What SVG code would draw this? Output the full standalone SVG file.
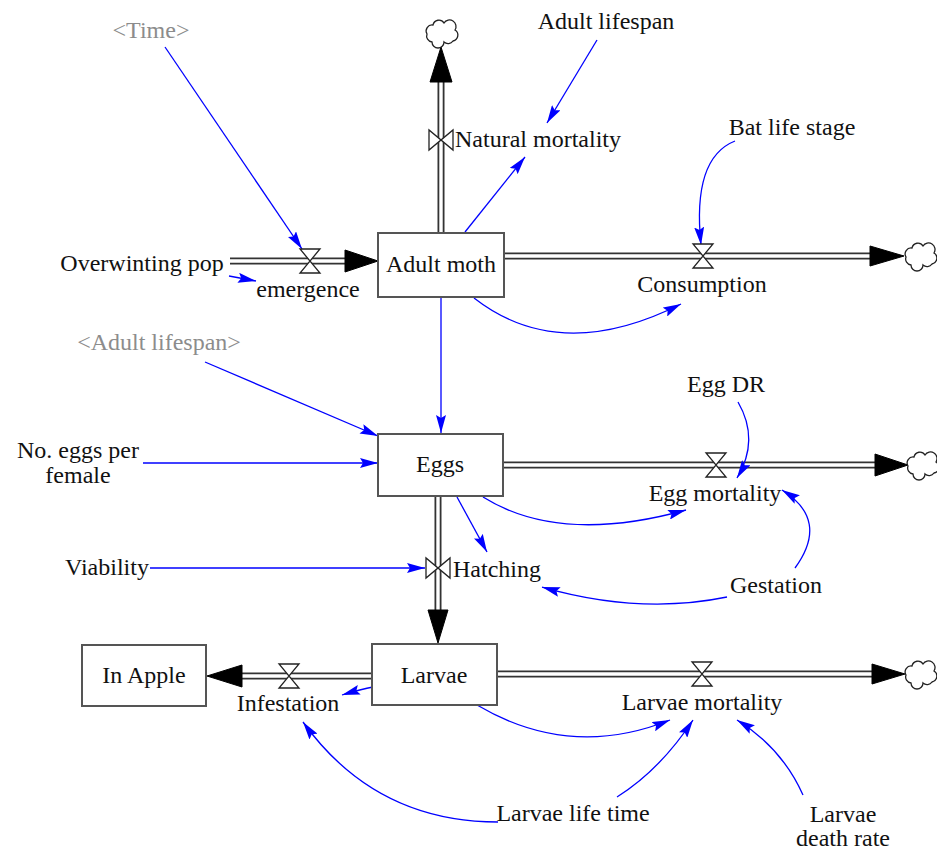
<svg xmlns="http://www.w3.org/2000/svg" xmlns:xlink="http://www.w3.org/1999/xlink" width="937" height="852" viewBox="0 0 937 852">
<style>
text{font-family:"Liberation Serif","Times New Roman",serif;font-size:24px;fill:#111;text-anchor:middle}
text.shadow{fill:#8c8c8c}
.stock{fill:#fff;stroke:#555;stroke-width:2}
.po{fill:none;stroke:#333;stroke-width:7}
.pi{fill:none;stroke:#fff;stroke-width:3.4}
.fa{fill:#000;stroke:#000;stroke-width:1}
.valve{fill:#fff;stroke:#222;stroke-width:1.3}
.cloud{fill:#fff;stroke:#222;stroke-width:1.3}
.link{fill:none;stroke:#0000ff;stroke-width:1.3;marker-end:url(#la)}
</style>
<defs>
<marker id="la" viewBox="0 0 18 10" refX="18" refY="5" markerWidth="18" markerHeight="10" markerUnits="userSpaceOnUse" orient="auto">
<path d="M0,0 L18,5 L0,10 L3,5 Z" fill="#0000ff"/>
</marker>
<path id="vv" d="M-10,-12 H10 L-10,12 H10 Z"/>
<path id="vh" d="M-12,-10 V10 L12,-10 V10 Z"/>
<path id="cl" d="M-9,9 A6 6 0 0 1 -14,1 A6 6 0 0 1 -8,-8 A6 6 0 0 1 3,-10 A6 6 0 0 1 14,-3 A6 6 0 0 1 12,8 A6 6 0 0 1 3,9 A6 6 0 0 1 -9,9 Z"/>
</defs>
<rect width="937" height="852" fill="#fff"/>

<g id="connectors">
<g id="pipes">
<path class="po" d="M230,261 H348 M441,233 V80 M504,256 H871 M503,465 H876 M438,496 V611 M372,676 H241 M497,674 H873"/>
<path class="pi" d="M230,261 H348 M441,233 V80 M504,256 H871 M503,465 H876 M438,496 V611 M372,676 H241 M497,674 H873"/>
<polygon class="fa" points="345,250 378,261 345,272"/>
<polygon class="fa" points="430,82 441,47 452,82"/>
<polygon class="fa" points="870,246 904,256 870,266"/>
<polygon class="fa" points="875,454 908,465 875,476"/>
<polygon class="fa" points="428,610 438,643 448,610"/>
<polygon class="fa" points="242,665 207,676 242,687"/>
<polygon class="fa" points="872,664 905,674 872,684"/>
</g>
<g id="links">
<path class="link" d="M165,47 L302,249"/>
<path class="link" d="M229,276 L256,281"/>
<path class="link" d="M597,40 L547,123"/>
<path class="link" d="M465,232 L525,157"/>
<path class="link" d="M735,141 Q692,158 701,245"/>
<path class="link" d="M474,298 Q560,365 681,304"/>
<path class="link" d="M441,297 L441,433"/>
<path class="link" d="M205,362 L378,436"/>
<path class="link" d="M143,463 L378,463"/>
<path class="link" d="M483,497 Q560,545 686,510"/>
<path class="link" d="M738,402 Q760,440 737,478"/>
<path class="link" d="M457,497 L487,552"/>
<path class="link" d="M150,568 L425,568"/>
<path class="link" d="M727,597 Q640,615 542,587"/>
<path class="link" d="M795,568 Q830,520 782,490"/>
<path class="link" d="M373,687 Q362,689 342,695"/>
<path class="link" d="M477,705 Q570,760 670,720"/>
<path class="link" d="M498,822 Q375,822 303,722"/>
<path class="link" d="M617,797 Q660,770 693,720"/>
<path class="link" d="M803,795 Q782,748 737,720"/>
</g>
</g>

<g id="stock-adult-moth"><rect class="stock" x="378" y="233" width="126" height="64"/><text x="441" y="272">Adult moth</text></g>
<g id="stock-eggs"><rect class="stock" x="378" y="434" width="125" height="62"/><text x="440" y="472">Eggs</text></g>
<g id="stock-larvae"><rect class="stock" x="372" y="644" width="125" height="61"/><text x="434" y="683">Larvae</text></g>
<g id="stock-in-apple"><rect class="stock" x="82" y="645" width="124" height="61"/><text x="144" y="683">In Apple</text></g>

<g id="flow-emergence"><use xlink:href="#vv" href="#vv" class="valve" x="310" y="261"/><text x="308" y="297">emergence</text></g>
<g id="flow-natural-mortality"><use xlink:href="#vh" href="#vh" class="valve" x="441" y="140"/><text x="538" y="147">Natural mortality</text></g>
<g id="flow-consumption"><use xlink:href="#vv" href="#vv" class="valve" x="703" y="256"/><text x="702" y="292">Consumption</text></g>
<g id="flow-egg-mortality"><use xlink:href="#vv" href="#vv" class="valve" x="716" y="465"/><text x="715" y="501">Egg mortality</text></g>
<g id="flow-hatching"><use xlink:href="#vh" href="#vh" class="valve" x="438" y="568"/><text x="497" y="577">Hatching</text></g>
<g id="flow-infestation"><use xlink:href="#vv" href="#vv" class="valve" x="289" y="676"/><text x="288" y="711">Infestation</text></g>
<g id="flow-larvae-mortality"><use xlink:href="#vv" href="#vv" class="valve" x="702" y="674"/><text x="702" y="710">Larvae mortality</text></g>

<g id="cloud-top"><use xlink:href="#cl" href="#cl" class="cloud" x="441" y="33"/></g>
<g id="cloud-consumption"><use xlink:href="#cl" href="#cl" class="cloud" x="920" y="256"/></g>
<g id="cloud-egg"><use xlink:href="#cl" href="#cl" class="cloud" x="922" y="465"/></g>
<g id="cloud-larvae"><use xlink:href="#cl" href="#cl" class="cloud" x="920" y="674"/></g>

<g id="aux-time"><text class="shadow" x="151" y="38">&lt;Time&gt;</text></g>
<g id="aux-adult-lifespan"><text x="606" y="29">Adult lifespan</text></g>
<g id="aux-bat-life-stage"><text x="792" y="135">Bat life stage</text></g>
<g id="aux-overwinting-pop"><text x="142" y="271">Overwinting pop</text></g>
<g id="aux-adult-lifespan-shadow"><text class="shadow" x="159" y="350">&lt;Adult lifespan&gt;</text></g>
<g id="aux-egg-dr"><text x="726" y="392">Egg DR</text></g>
<g id="aux-eggs-per-female"><text x="78" y="458">No. eggs per</text><text x="78" y="483">female</text></g>
<g id="aux-viability"><text x="107" y="575">Viability</text></g>
<g id="aux-gestation"><text x="776" y="593">Gestation</text></g>
<g id="aux-larvae-life-time"><text x="573" y="821">Larvae life time</text></g>
<g id="aux-larvae-death-rate"><text x="843" y="822">Larvae</text><text x="843" y="846">death rate</text></g>
</svg>
